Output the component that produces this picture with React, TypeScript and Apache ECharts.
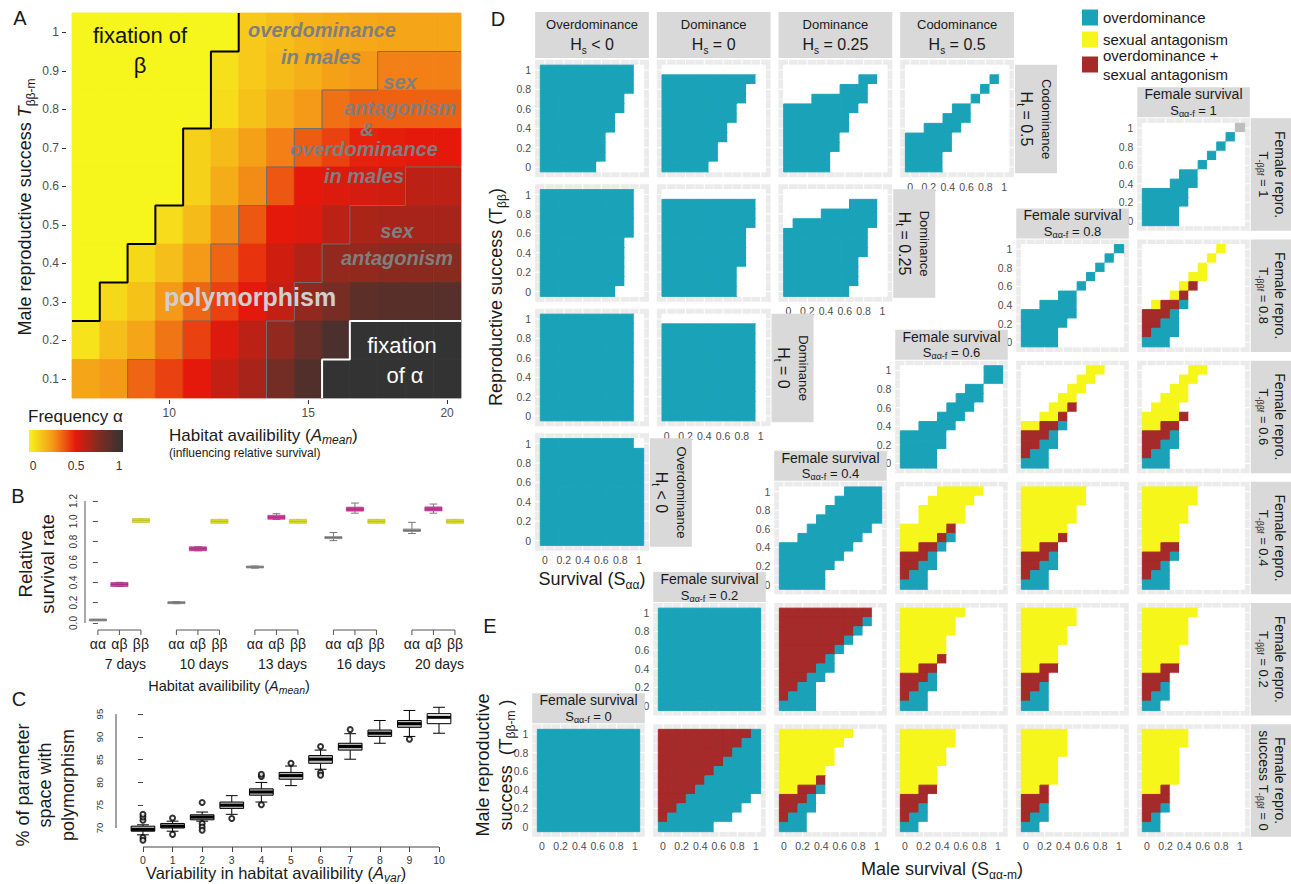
import React, { useEffect, useRef } from 'react';
import * as echarts from 'echarts';

const FONT = '"Liberation Sans", Arial, Helvetica, sans-serif';
const INK = '#1a1a1a';
const TICK_TXT = '#4d4d4d';

/* ---------------- Panel A : frequency of allele alpha ---------------- */
const A_X = [7, 8, 9, 10, 11, 12, 13, 14, 15, 16, 17, 18, 19, 20];
const A_Y = [1.0, 0.9, 0.8, 0.7, 0.6, 0.5, 0.4, 0.3, 0.2, 0.1];
const A_T10 = [0, 0, 0, 0, 0, 0, 0.12, 0.15, 0.18, 0.2, 0.21, 0.22, 0.22, 0.22];
const A_T09 = [0, 0, 0, 0, 0, 0.06, 0.12, 0.16, 0.19, 0.23, 0.25, 0.3, 0.3, 0.3];
const A_T08 = [0, 0, 0, 0, 0, 0.07, 0.14, 0.2, 0.25, 0.33, 0.36, 0.36, 0.36, 0.36];
const A_T07 = [0, 0, 0, 0, 0.1, 0.16, 0.23, 0.3, 0.37, 0.42, 0.48, 0.49, 0.5, 0.5];
const A_T06 = [0, 0, 0, 0, 0.1, 0.2, 0.28, 0.38, 0.5, 0.52, 0.54, 0.55, 0.6, 0.6];
const A_T05 = [0, 0, 0, 0.07, 0.16, 0.28, 0.38, 0.5, 0.52, 0.6, 0.64, 0.65, 0.65, 0.65];
const A_T04 = [0, 0, 0.08, 0.15, 0.25, 0.35, 0.45, 0.55, 0.62, 0.7, 0.7, 0.72, 0.72, 0.72];
const A_T03 = [0, 0.08, 0.14, 0.25, 0.35, 0.42, 0.5, 0.58, 0.7, 0.77, 0.86, 0.87, 0.87, 0.88];
const A_T02 = [0.05, 0.15, 0.22, 0.32, 0.42, 0.52, 0.6, 0.7, 0.82, 0.92, 1, 1, 1, 1];
const A_T01 = [0.22, 0.25, 0.35, 0.42, 0.5, 0.58, 0.65, 0.78, 0.9, 1, 1, 1, 1, 1];
const A_ROWS = [A_T10, A_T09, A_T08, A_T07, A_T06, A_T05, A_T04, A_T03, A_T02, A_T01];
const A_X_TICKS = [10, 15, 20];
const A_Y_TICKS = [0.1, 0.2, 0.3, 0.4, 0.5, 0.6, 0.7, 0.8, 0.9, 1];
const A_STOPS = ['#f6f51c', '#f59a18', '#e4190c', '#7d2c22', '#333333'];
// region boundaries (data space)
const A_FIX_BETA = [[12.5, 1.05], [12.5, 0.95], [11.5, 0.95], [11.5, 0.75], [10.5, 0.75], [10.5, 0.55], [9.5, 0.55], [9.5, 0.45], [8.5, 0.45], [8.5, 0.35], [7.5, 0.35], [7.5, 0.25], [6.5, 0.25]];
const A_FIX_ALPHA = [[20.5, 0.25], [16.5, 0.25], [16.5, 0.15], [15.5, 0.15], [15.5, 0.05]];
const A_OD_LINE = [[20.5, 0.95], [17.5, 0.95], [17.5, 0.85], [15.5, 0.85], [15.5, 0.75], [14.5, 0.75], [14.5, 0.65], [13.5, 0.65], [13.5, 0.55], [12.5, 0.55], [12.5, 0.45], [11.5, 0.45], [11.5, 0.25], [10.5, 0.25], [10.5, 0.15], [8.5, 0.15], [8.5, 0.05]];
const A_SA_LINE = [[20.5, 0.65], [18.5, 0.65], [18.5, 0.55], [16.5, 0.55], [16.5, 0.45], [15.5, 0.45], [15.5, 0.35], [14.5, 0.35], [14.5, 0.25], [13.5, 0.25], [13.5, 0.05]];

/* ---------------- Panel B : relative survival ---------------- */
const B_DAYS = ['7 days', '10 days', '13 days', '16 days', '20 days'];
const B_GENO = ['αα', 'αβ', 'ββ'];
const B_MED = [[0.03, 0.38, 1.01], [0.2, 0.73, 1.0], [0.55, 1.04, 1.0], [0.84, 1.12, 1.0], [0.91, 1.12, 1.0]];
const B_Q1 = [[0.028, 0.372, 0.995], [0.195, 0.72, 0.99], [0.547, 1.03, 0.99], [0.83, 1.11, 0.99], [0.9, 1.11, 0.99]];
const B_Q3 = [[0.032, 0.386, 1.02], [0.205, 0.74, 1.01], [0.555, 1.05, 1.01], [0.85, 1.13, 1.01], [0.925, 1.135, 1.01]];
const B_LO = [[0.028, 0.36, 0.995], [0.19, 0.71, 0.99], [0.54, 1.02, 0.99], [0.81, 1.08, 0.99], [0.88, 1.08, 0.99]];
const B_HI = [[0.032, 0.4, 1.02], [0.21, 0.75, 1.01], [0.56, 1.075, 1.01], [0.89, 1.18, 1.01], [0.99, 1.17, 1.01]];
const B_Y_TICKS = [0, 0.2, 0.4, 0.6, 0.8, 1.0, 1.2];

/* ---------------- Panel C : % parameter space with polymorphism ---------------- */
const C_X = [0, 1, 2, 3, 4, 5, 6, 7, 8, 9, 10];
const C_MED = [69.7, 70.4, 72.4, 75.0, 77.9, 81.5, 85.1, 87.9, 90.8, 92.9, 94.3];
const C_Q1 = [69.3, 70.0, 71.8, 74.3, 77.2, 80.7, 84.2, 87.1, 90.1, 92.1, 92.9];
const C_Q3 = [70.4, 71.0, 72.9, 75.7, 78.6, 82.2, 85.9, 88.6, 91.5, 93.6, 95.1];
const C_LO = [68.5, 69.3, 71.5, 73.0, 75.7, 79.3, 82.9, 85.1, 88.6, 90.1, 90.8];
const C_HI = [70.7, 71.5, 73.5, 77.1, 80.0, 83.6, 87.1, 90.7, 93.6, 95.8, 96.5];
const C_OUT = [[0, 67.9], [0, 67.3], [0, 71.7], [0, 72.4], [0, 73.0], [1, 68.6], [1, 72.2], [2, 71.0], [2, 70.2], [2, 69.5], [2, 75.6], [3, 72.1], [4, 75.1], [4, 81.3], [4, 81.8], [5, 84.2], [6, 82.2], [6, 81.6], [6, 87.9], [7, 91.6], [9, 89.5]];
const C_X_TICKS = [0, 1, 2, 3, 4, 5, 6, 7, 8, 9, 10];
const C_Y_TICKS = [70, 75, 80, 85, 90, 95];

/* ---------------- Panels D/E : 11x11 grids, rows top (1) to bottom (0), x = 0..1 ----------------
   '.' none, 'o' overdominance, 's' sexual antagonism, 'b' both, 'g' grey */
const D_R1_C1 = ['oooooooooo.', 'oooooooooo.', 'oooooooooo.', 'ooooooooo..', 'ooooooooo..', 'oooooooo...', 'oooooooo...', 'ooooooo....', 'ooooooo....', 'ooooooo....', 'oooooo.....'];
const D_R1_C2 = ['...........', 'oooooooooo.', 'ooooooooo..', 'ooooooooo..', 'oooooooo...', 'oooooooo...', 'ooooooo....', 'ooooooo....', 'oooooo.....', 'oooooo.....', 'ooooo......'];
const D_R1_C3 = ['...........', '........oo.', '......ooo..', '...oooooo..', 'oooooooo...', 'ooooooo....', 'ooooooo....', 'oooooo.....', 'oooooo.....', 'ooooo......', 'ooooo......'];
const D_R1_C4 = ['...........', '.........o.', '........o..', '.......o...', '.....oo....', '....ooo....', '..oooo.....', 'ooooo......', 'ooooo......', 'oooo.......', 'oooo.......'];
const D_R2_C1 = ['oooooooooo.', 'oooooooooo.', 'oooooooooo.', 'oooooooooo.', 'oooooooooo.', 'ooooooooo..', 'ooooooooo..', 'ooooooooo..', 'ooooooooo..', 'ooooooooo..', 'oooooooo...'];
const D_R2_C2 = ['...........', 'oooooooooo.', 'oooooooooo.', 'oooooooooo.', 'ooooooooo..', 'ooooooooo..', 'ooooooooo..', 'ooooooooo..', 'oooooooo...', 'oooooooo...', 'oooooooo...'];
const D_R2_C3 = ['...........', '.......ooo.', '....oooooo.', '.ooooooooo.', 'ooooooooo..', 'ooooooooo..', 'ooooooooo..', 'oooooooo...', 'oooooooo...', 'oooooooo...', 'ooooooo....'];
const D_R3_C1 = ['oooooooooo.', 'oooooooooo.', 'oooooooooo.', 'oooooooooo.', 'oooooooooo.', 'oooooooooo.', 'oooooooooo.', 'oooooooooo.', 'oooooooooo.', 'oooooooooo.', 'oooooooooo.'];
const D_R3_C2 = ['...........', 'oooooooooo.', 'oooooooooo.', 'oooooooooo.', 'oooooooooo.', 'oooooooooo.', 'oooooooooo.', 'oooooooooo.', 'oooooooooo.', 'oooooooooo.', 'oooooooooo.'];
const D_R4_C1 = ['oooooooooo.', 'ooooooooooo', 'ooooooooooo', 'ooooooooooo', 'ooooooooooo', 'ooooooooooo', 'ooooooooooo', 'ooooooooooo', 'ooooooooooo', 'ooooooooooo', 'ooooooooooo'];

const E_T10_S10 = ['..........g', '.........o.', '........o..', '.......o...', '......o....', '....oo.....', '...ooo.....', 'ooooo......', 'ooooo......', 'oooo.......', 'oooo.......'];
const E_T08_S08 = ['..........o', '.........o.', '........o..', '.......o...', '......o....', '....oo.....', '..oooo.....', 'oooooo.....', 'ooooo......', 'oooo.......', 'oooo.......'];
const E_T08_S10 = ['........s..', '.......s...', '......s....', '.....ss....', '....sb.....', '...sb......', '.sbbo......', 'bbbo.......', 'bboo.......', 'booo.......', 'ooo........'];
const E_T06_S06 = ['.........oo', '.........oo', '.......oo..', '......ooo..', '.....ooo...', '....ooo....', '..oooo.....', 'ooooo......', 'ooooo......', 'oooo.......', 'oooo.......'];
const E_T06_S08 = ['.......ss..', '......ss...', '.....ss....', '....ss.....', '...ssb.....', '..ssb......', 'ssbbo......', 'bbbo.......', 'bboo.......', 'boo........', 'ooo........'];
const E_T06_S10 = ['.....ss....', '....ss.....', '...ss......', '..sss......', '.sss.......', 'ssssb......', 'ssbb.......', 'bbbo.......', 'bboo.......', 'boo........', 'ooo........'];
const E_T04_S04 = ['.......oooo', '......ooooo', '.....oooooo', '....ooooooo', '...ooooooo.', '..ooooooo..', 'oooooooo...', 'ooooooo....', 'oooooo.....', 'ooooo......', 'ooooo......'];
const E_T04_S06 = ['....sssss..', '...sssss...', '..sssss....', '..sssss....', 'sssssb.....', 'ssssbo.....', 'ssbbo......', 'bbbo.......', 'bboo.......', 'boo........', 'ooo........'];
const E_T04_S08 = ['sssssss....', 'sssssss....', 'ssssss.....', 'ssssss.....', 'sssss......', 'ssssb......', 'ssbb.......', 'bbbo.......', 'bboo.......', 'boo........', 'ooo........'];
const E_T04_S10 = ['ssssss.....', 'ssssss.....', 'sssss......', 'sssss......', 'ssss.......', 'ssss.......', 'ssbb.......', 'bbbo.......', 'bbo........', 'boo........', 'ooo........'];
const E_T02_S02 = ['ooooooooooo', 'ooooooooooo', 'ooooooooooo', 'ooooooooooo', 'ooooooooooo', 'ooooooooooo', 'ooooooooooo', 'ooooooooooo', 'ooooooooooo', 'ooooooooooo', 'ooooooooooo'];
const E_T02_S04 = ['bbbbbbbbbb.', 'bbbbbbbbbo.', 'bbbbbbbbo..', 'bbbbbbbo...', 'bbbbbbo....', 'bbbbbo.....', 'bbbboo.....', 'bbboo......', 'bboo.......', 'booo.......', 'oooo.......'];
const E_T02_S06 = ['sssssss....', 'ssssss.....', 'ssssss.....', 'sssss......', 'sssss......', 'ssssb......', 'ssbb.......', 'bbbo.......', 'bboo.......', 'boo........', 'ooo........'];
const E_T02_S08 = ['ssssss.....', 'ssssss.....', 'sssss......', 'sssss......', 'ssss.......', 'ssss.......', 'ssbb.......', 'bbb........', 'bbo........', 'boo........', 'ooo........'];
const E_T02_S10 = ['ssssss.....', 'sssss......', 'sssss......', 'sssss......', 'ssss.......', 'ssss.......', 'ssbb.......', 'bbb........', 'bbo........', 'boo........', 'oo.........'];
const E_T00_S00 = ['ooooooooooo', 'ooooooooooo', 'ooooooooooo', 'ooooooooooo', 'ooooooooooo', 'ooooooooooo', 'ooooooooooo', 'ooooooooooo', 'ooooooooooo', 'ooooooooooo', 'ooooooooooo'];
const E_T00_S02 = ['bbbbbbbbbbo', 'bbbbbbbbboo', 'bbbbbbbbooo', 'bbbbbbboooo', 'bbbbbbooooo', 'bbbbboooooo', 'bbbbooooooo', 'bbbooooooo.', 'bbooooooo..', 'booooooo...', 'oooooo.....'];
const E_T00_S04 = ['ssssssss...', 'sssssss....', 'ssssss.....', 'ssssss.....', 'sssss......', 'ssssb......', 'ssbbo......', 'bbbo.......', 'bboo.......', 'boo........', 'ooo........'];
const E_T00_S06 = ['ssssss.....', 'ssssss.....', 'sssss......', 'sssss......', 'ssss.......', 'ssss.......', 'ssbb.......', 'bbb........', 'bbo........', 'boo........', 'oo.........'];
const E_T00_S08 = ['sssss......', 'sssss......', 'sssss......', 'ssss.......', 'ssss.......', 'ssss.......', 'ssb........', 'bbb........', 'bbo........', 'boo........', 'oo.........'];
const E_T00_S10 = ['sssss......', 'sssss......', 'ssss.......', 'ssss.......', 'ssss.......', 'ssss.......', 'ssb........', 'bbb........', 'bbo........', 'bo.........', 'oo.........'];

const D_PANELS = [
  { r: 0, c: 0, rows: D_R1_C1 }, { r: 0, c: 1, rows: D_R1_C2 }, { r: 0, c: 2, rows: D_R1_C3 }, { r: 0, c: 3, rows: D_R1_C4 },
  { r: 1, c: 0, rows: D_R2_C1 }, { r: 1, c: 1, rows: D_R2_C2 }, { r: 1, c: 2, rows: D_R2_C3 },
  { r: 2, c: 0, rows: D_R3_C1 }, { r: 2, c: 1, rows: D_R3_C2 },
  { r: 3, c: 0, rows: D_R4_C1 },
];
const D_COL_TITLES = [['Overdominance', ' < 0'], ['Dominance', ' = 0'], ['Dominance', ' = 0.25'], ['Codominance', ' = 0.5']];
const D_ROW_TITLES = [['Codominance', ' = 0.5'], ['Dominance', ' = 0.25'], ['Dominance', ' = 0'], ['Overdominance', ' < 0']];

const E_PANELS = [
  { t: 0, c: 5, rows: E_T10_S10 },
  { t: 1, c: 4, rows: E_T08_S08 }, { t: 1, c: 5, rows: E_T08_S10 },
  { t: 2, c: 3, rows: E_T06_S06 }, { t: 2, c: 4, rows: E_T06_S08 }, { t: 2, c: 5, rows: E_T06_S10 },
  { t: 3, c: 2, rows: E_T04_S04 }, { t: 3, c: 3, rows: E_T04_S06 }, { t: 3, c: 4, rows: E_T04_S08 }, { t: 3, c: 5, rows: E_T04_S10 },
  { t: 4, c: 1, rows: E_T02_S02 }, { t: 4, c: 2, rows: E_T02_S04 }, { t: 4, c: 3, rows: E_T02_S06 }, { t: 4, c: 4, rows: E_T02_S08 }, { t: 4, c: 5, rows: E_T02_S10 },
  { t: 5, c: 0, rows: E_T00_S00 }, { t: 5, c: 1, rows: E_T00_S02 }, { t: 5, c: 2, rows: E_T00_S04 }, { t: 5, c: 3, rows: E_T00_S06 }, { t: 5, c: 4, rows: E_T00_S08 }, { t: 5, c: 5, rows: E_T00_S10 },
];
const E_S_LABELS = ['0', '0.2', '0.4', '0.6', '0.8', '1'];
const E_T_LABELS = ['1', '0.8', '0.6', '0.4', '0.2', '0'];
const SMALL_TICKS = [0, 0.2, 0.4, 0.6, 0.8, 1];
const CAT_KEYS = '.osbg';
const CAT_COLORS = ['#ffffff', '#1aa3b8', '#f6f61a', '#a52a2a', '#bdbdbd'];
const LEGEND_ITEMS = ['overdominance', 'sexual antagonism', 'overdominance +\nsexual antagonism'];

/* ---------------- helpers ---------------- */
function hexRgb(h: string) {
  const n = parseInt(h.slice(1), 16);
  return [(n >> 16) & 255, (n >> 8) & 255, n & 255];
}
function ramp(v: number) {
  const s = A_STOPS;
  const t = Math.max(0, Math.min(1, v)) * (s.length - 1);
  const i = Math.min(Math.floor(t), s.length - 2);
  const f = t - i;
  const a = hexRgb(s[i]);
  const b = hexRgb(s[i + 1]);
  const m = a.map((x, k) => Math.round(x + (b[k] - x) * f));
  return `rgb(${m[0]},${m[1]},${m[2]})`;
}
function ln(x1: number, y1: number, x2: number, y2: number, stroke: string, lineWidth: number) {
  return { type: 'line', shape: { x1, y1, x2, y2 }, style: { stroke, lineWidth } };
}

const aTileItem = (params: any, api: any) => {
  const x = api.value(0), y = api.value(1), v = api.value(2);
  const a = api.coord([x - 0.5, y + 0.05]);
  const b = api.coord([x + 0.5, y - 0.05]);
  const fill = ramp(v);
  return { type: 'rect', shape: { x: a[0], y: a[1], width: b[0] - a[0], height: b[1] - a[1] }, style: { fill, stroke: fill, lineWidth: 0.8 } };
};

const tileItem = (params: any, api: any) => {
  const x = api.value(0), y = api.value(1), k = api.value(2);
  const a = api.coord([x - 0.05, y + 0.05]);
  const b = api.coord([x + 0.05, y - 0.05]);
  const fill = CAT_COLORS[k];
  return { type: 'rect', shape: { x: a[0], y: a[1], width: b[0] - a[0], height: b[1] - a[1] }, style: { fill, stroke: fill, lineWidth: 1 } };
};

const gridLinesItem = (params: any, api: any) => {
  const ch: any[] = [];
  for (let i = 0; i <= 10; i++) {
    const v = i / 10;
    const w = i % 2 === 0 ? 1.1 : 0.5;
    const a = api.coord([v, -0.105]), b = api.coord([v, 1.105]);
    ch.push(ln(a[0], a[1], b[0], b[1], '#ffffff', w));
    const c = api.coord([-0.105, v]), d = api.coord([1.105, v]);
    ch.push(ln(c[0], c[1], d[0], d[1], '#ffffff', w));
  }
  return { type: 'group', children: ch };
};

const B_GAP = 3.65;
const B_XMIN = -0.6;
const B_YMIN = -0.059;
const B_FILL = ['#a0a0a0', '#d23c9e', '#dcdc2a'];
const B_EDGE = ['#6e6e6e', '#a82a7c', '#bcbc20'];

const bBoxItem = (params: any, api: any) => {
  const x = api.value(0), lo = api.value(1), q1 = api.value(2), med = api.value(3), q3 = api.value(4), hi = api.value(5), g = api.value(6);
  const pm = api.coord([x, med]);
  const hw = api.coord([x + 0.4, med])[0] - pm[0];
  const yLo = api.coord([x, lo])[1], yHi = api.coord([x, hi])[1];
  let top = api.coord([x, q3])[1], bot = api.coord([x, q1])[1];
  const minH = g === 0 ? 2 : 4;
  if (bot - top < minH) { const m = (top + bot) / 2; top = m - minH / 2; bot = m + minH / 2; }
  const cw = hw * 0.45;
  return {
    type: 'group', children: [
      ln(pm[0], yHi, pm[0], top, '#777', 1),
      ln(pm[0], bot, pm[0], yLo, '#777', 1),
      ln(pm[0] - cw, yHi, pm[0] + cw, yHi, '#777', 1),
      ln(pm[0] - cw, yLo, pm[0] + cw, yLo, '#777', 1),
      { type: 'rect', shape: { x: pm[0] - hw, y: top, width: 2 * hw, height: bot - top }, style: { fill: B_FILL[g], stroke: B_EDGE[g], lineWidth: 0.6 } },
      ln(pm[0] - hw, pm[1], pm[0] + hw, pm[1], B_EDGE[g], 1),
    ],
  };
};

const bAxisItem = (params: any, api: any) => {
  const g = api.value(0);
  const xs = [0, 1, 2].map((k) => api.coord([g * B_GAP + k, 0])[0]);
  const yb = api.coord([0, B_YMIN])[1] + 1;
  const ch: any[] = [ln(xs[0], yb, xs[2], yb, '#555', 1)];
  xs.forEach((x, k) => {
    ch.push(ln(x, yb, x, yb + 5, '#555', 1));
    ch.push({ type: 'text', x, y: yb + 14, style: { text: B_GENO[k], fill: INK, fontSize: 14, fontFamily: FONT, align: 'center', verticalAlign: 'middle' } });
  });
  ch.push({ type: 'text', x: xs[1] + 6, y: yb + 34, style: { text: B_DAYS[g], fill: INK, fontSize: 14, fontFamily: FONT, align: 'center', verticalAlign: 'middle' } });
  return { type: 'group', children: ch };
};

const bYLineItem = (params: any, api: any) => {
  const a = api.coord([B_XMIN, 0]), b = api.coord([B_XMIN, 1.2]);
  return ln(a[0], a[1], b[0], b[1], '#555', 1);
};

const C_XMIN = -0.91;
const C_YMIN = 65.83;
const cBoxItem = (params: any, api: any) => {
  const x = api.value(0), lo = api.value(1), q1 = api.value(2), med = api.value(3), q3 = api.value(4), hi = api.value(5);
  const pm = api.coord([x, med]);
  const hw = api.coord([x + 0.4, med])[0] - pm[0];
  const cw = hw * 0.5;
  const yLo = api.coord([x, lo])[1], yQ1 = api.coord([x, q1])[1], yQ3 = api.coord([x, q3])[1], yHi = api.coord([x, hi])[1];
  const fill = params.dataIndex === 10 ? '#ffffff' : '#bdbdbd';
  return {
    type: 'group', children: [
      ln(pm[0], yHi, pm[0], yQ3, '#000', 1),
      ln(pm[0], yQ1, pm[0], yLo, '#000', 1),
      ln(pm[0] - cw, yHi, pm[0] + cw, yHi, '#000', 1),
      ln(pm[0] - cw, yLo, pm[0] + cw, yLo, '#000', 1),
      { type: 'rect', shape: { x: pm[0] - hw, y: yQ3, width: 2 * hw, height: yQ1 - yQ3 }, style: { fill, stroke: '#000', lineWidth: 1 } },
      ln(pm[0] - hw, pm[1], pm[0] + hw, pm[1], '#000', 3),
    ],
  };
};
const cAxesItem = (params: any, api: any) => {
  const a = api.coord([0, C_YMIN]), b = api.coord([10, C_YMIN]);
  const c = api.coord([C_XMIN, 70]), d = api.coord([C_XMIN, 95]);
  return { type: 'group', children: [ln(a[0], a[1], b[0], b[1], '#444', 1), ln(c[0], c[1], d[0], d[1], '#444', 1)] };
};

function rt(n: number, s: number, fill = INK) {
  return {
    n: { fontSize: n, fontFamily: FONT, fill, lineHeight: Math.round(n * 1.25) },
    i: { fontSize: n, fontFamily: FONT, fill, fontStyle: 'italic', lineHeight: Math.round(n * 1.25) },
    s: { fontSize: s, fontFamily: FONT, fill, verticalAlign: 'bottom' },
    si: { fontSize: s, fontFamily: FONT, fill, fontStyle: 'italic', verticalAlign: 'bottom' },
  };
}
function txt(x: number, y: number, text: string, style: any = {}, extra: any = {}) {
  return { type: 'text', x, y, z: 100, silent: true, ...extra, style: { text, fill: INK, fontSize: 14, fontFamily: FONT, align: 'center', verticalAlign: 'middle', ...style } };
}
function box(x: number, y: number, w: number, h: number, fill = '#d9d9d9') {
  return { type: 'rect', z: 90, silent: true, shape: { x, y, width: w, height: h }, style: { fill } };
}

function buildOption() {
  const grid: any[] = [];
  const xAxis: any[] = [];
  const yAxis: any[] = [];
  const series: any[] = [];
  const gfx: any[] = [];
  const gridBase = { containLabel: false, outerBoundsMode: 'none' };

  /* ---- A ---- */
  grid.push({ ...gridBase, left: 72, top: 13, width: 389, height: 385 });
  xAxis.push({
    type: 'value', gridIndex: 0, min: 6.5, max: 20.5, offset: 2,
    axisLine: { show: false }, splitLine: { show: false },
    axisTick: { length: 4, lineStyle: { color: '#333' }, customValues: A_X_TICKS },
    axisLabel: { customValues: A_X_TICKS, fontSize: 12, color: TICK_TXT, margin: 7, fontFamily: FONT },
  });
  yAxis.push({
    type: 'value', gridIndex: 0, min: 0.05, max: 1.05, offset: 6,
    axisLine: { show: false }, splitLine: { show: false },
    axisTick: { length: 4, lineStyle: { color: '#333' }, customValues: A_Y_TICKS },
    axisLabel: { customValues: A_Y_TICKS, fontSize: 12, color: TICK_TXT, margin: 7, fontFamily: FONT },
  });
  const aData: any[] = [];
  A_ROWS.forEach((row, ri) => row.forEach((v, ci) => aData.push([A_X[ci], A_Y[ri], v])));
  series.push({ type: 'custom', xAxisIndex: 0, yAxisIndex: 0, data: aData, renderItem: aTileItem, silent: true, z: 2 });
  const lineS = (data: any, color: string, width: number) => ({
    type: 'line', xAxisIndex: 0, yAxisIndex: 0, data, symbol: 'none', showSymbol: false,
    lineStyle: { color, width }, silent: true, z: 5, clip: false,
  });
  series.push(lineS(A_OD_LINE, '#6f6f6f', 1), lineS(A_SA_LINE, '#6f6f6f', 1), lineS(A_FIX_BETA, '#000000', 2), lineS(A_FIX_ALPHA, '#ffffff', 2));

  /* ---- B ---- */
  grid.push({ ...gridBase, left: 85, top: 495, width: 385, height: 134 });
  xAxis.push({ type: 'value', gridIndex: 1, min: B_XMIN, max: 17.3, show: false });
  yAxis.push({
    type: 'value', gridIndex: 1, min: B_YMIN, max: 1.259,
    axisLine: { show: false }, splitLine: { show: false },
    axisTick: { length: 5, lineStyle: { color: '#555' }, customValues: B_Y_TICKS },
    axisLabel: { customValues: B_Y_TICKS, rotate: 90, fontSize: 10, color: '#333', margin: 7, fontFamily: FONT, formatter: (v: number) => v.toFixed(1) },
  });
  const bData: any[] = [];
  B_MED.forEach((grp, g) => grp.forEach((m, k) => bData.push([g * B_GAP + k, B_LO[g][k], B_Q1[g][k], m, B_Q3[g][k], B_HI[g][k], k])));
  series.push({ type: 'custom', xAxisIndex: 1, yAxisIndex: 1, data: bData, renderItem: bBoxItem, silent: true, z: 3 });
  series.push({ type: 'custom', xAxisIndex: 1, yAxisIndex: 1, data: B_DAYS.map((_, g) => [g]), renderItem: bAxisItem, silent: true, z: 3 });
  series.push({ type: 'custom', xAxisIndex: 1, yAxisIndex: 1, data: [[0]], renderItem: bYLineItem, silent: true, z: 3 });

  /* ---- C ---- */
  grid.push({ ...gridBase, left: 116, top: 705, width: 339, height: 142 });
  xAxis.push({
    type: 'value', gridIndex: 2, min: C_XMIN, max: 10.54,
    axisLine: { show: false }, splitLine: { show: false },
    axisTick: { length: 5, lineStyle: { color: '#444' }, customValues: C_X_TICKS },
    axisLabel: { customValues: C_X_TICKS, fontSize: 10.5, color: '#333', margin: 7, fontFamily: '"Liberation Sans Narrow", ' + FONT },
  });
  yAxis.push({
    type: 'value', gridIndex: 2, min: C_YMIN, max: 97,
    axisLine: { show: false }, splitLine: { show: false },
    axisTick: { length: 5, lineStyle: { color: '#444' }, customValues: C_Y_TICKS },
    axisLabel: { customValues: C_Y_TICKS, rotate: 90, fontSize: 9.5, color: '#333', margin: 12, fontFamily: '"Liberation Sans Narrow", ' + FONT },
  });
  const cData = C_X.map((x, i) => [x, C_LO[i], C_Q1[i], C_MED[i], C_Q3[i], C_HI[i]]);
  series.push({ type: 'custom', xAxisIndex: 2, yAxisIndex: 2, data: cData, renderItem: cBoxItem, silent: true, z: 3 });
  series.push({ type: 'custom', xAxisIndex: 2, yAxisIndex: 2, data: [[0]], renderItem: cAxesItem, silent: true, z: 3 });
  series.push({
    type: 'scatter', xAxisIndex: 2, yAxisIndex: 2, data: C_OUT, symbol: 'emptyCircle', symbolSize: 5,
    itemStyle: { color: '#000', borderColor: '#000', borderWidth: 0.8 }, silent: true, z: 4,
  });

  /* ---- small panels ---- */
  const addSmall = (rows: string[], x0: number, y1: number, ux: number, uy: number, showX: boolean, showY: boolean) => {
    const idx = grid.length;
    grid.push({ ...gridBase, left: x0 - 0.105 * ux, top: y1 - 0.105 * uy, width: 1.21 * ux, height: 1.21 * uy, show: true, backgroundColor: '#ebebeb', borderWidth: 0, borderColor: 'transparent' });
    const ax = (show: boolean) => ({
      type: 'value', gridIndex: idx, min: -0.105, max: 1.105,
      axisLine: { show: false }, splitLine: { show: false },
      axisTick: { show, length: 3, lineStyle: { color: '#333', width: 1.4 }, customValues: SMALL_TICKS },
      axisLabel: { show, customValues: SMALL_TICKS, fontSize: 10.5, color: TICK_TXT, margin: 4, fontFamily: FONT },
    });
    xAxis.push(ax(showX));
    yAxis.push(ax(showY));
    series.push({ type: 'custom', xAxisIndex: idx, yAxisIndex: idx, data: [[0, 0]], renderItem: gridLinesItem, silent: true, z: 1 });
    const data: any[] = [];
    rows.forEach((r, ri) => {
      for (let ci = 0; ci < 11; ci++) data.push([ci / 10, (10 - ri) / 10, CAT_KEYS.indexOf(r[ci])]);
    });
    series.push({ type: 'custom', xAxisIndex: idx, yAxisIndex: idx, data, renderItem: tileItem, silent: true, z: 2 });
  };

  const DX0 = 545, DDX = 121.7, DUX = 94, DY1 = 70, DDY = 124.5, DUY = 97;
  D_PANELS.forEach((p) => addSmall(p.rows, DX0 + DDX * p.c, DY1 + DDY * p.r, DUX, DUY, p.r + p.c === 3, p.c === 0));
  const EX0 = 542, EDX = 121, EU = 93, EY1 = 128, EDY = 121.2;
  E_PANELS.forEach((p) => addSmall(p.rows, EX0 + EDX * p.c, EY1 + EDY * p.t, EU, EU, p.t === 5, p.c === 5 - p.t));

  /* ---- graphic: labels, strips, titles ---- */
  const bigLbl = { fontSize: 20 };
  gfx.push(txt(20, 18, 'A', bigLbl), txt(18, 496, 'B', bigLbl), txt(19, 699, 'C', bigLbl), txt(498, 19, 'D', bigLbl), txt(490, 626, 'E', bigLbl));

  // A annotations
  gfx.push(txt(140, 35, 'fixation of', { fontSize: 22, fill: '#111' }), txt(140, 65, 'β', { fontSize: 22, fill: '#111' }));
  const g1 = { fontSize: 20, fontWeight: 'bold', fontStyle: 'italic', fill: '#7f7f7f' };
  gfx.push(
    txt(322, 30, 'overdominance', g1), txt(321, 57, 'in males', g1),
    txt(400, 82, 'sex', g1), txt(400, 108, 'antagonism', g1), txt(367, 129, '&', { ...g1, fontSize: 19 }),
    txt(364, 149, 'overdominance', g1), txt(364, 176, 'in males', g1),
    txt(397, 231, 'sex', g1), txt(397, 258, 'antagonism', g1),
  );
  gfx.push(txt(250, 297, 'polymorphism', { fontSize: 25, fontWeight: 'bold', fill: '#cfcfcf' }));
  gfx.push(txt(402, 345, 'fixation', { fontSize: 22, fill: '#ffffff' }), txt(405, 375, 'of α', { fontSize: 22, fill: '#ffffff' }));
  // A titles
  gfx.push(txt(25, 207, '{n|Male reproductive success }{i|T}{s|ββ-m}', { rich: rt(18, 12) }, { rotation: Math.PI / 2 }));
  gfx.push(txt(169, 435, '{n|Habitat availibility (}{i|A}{si|mean}{n|)}', { rich: rt(17, 12), align: 'left' }));
  gfx.push(txt(169, 453, '(influencing relative survival)', { fontSize: 12, align: 'left' }));
  gfx.push(txt(28, 416, 'Frequency α', { fontSize: 17, align: 'left' }));
  gfx.push({
    type: 'rect', z: 100, silent: true, shape: { x: 29, y: 430, width: 94, height: 22 },
    style: { fill: { type: 'linear', x: 0, y: 0, x2: 1, y2: 0, colorStops: A_STOPS.map((c, i) => ({ offset: i / (A_STOPS.length - 1), color: c })) } },
  });
  gfx.push(txt(33, 466, '0', { fontSize: 12, fill: '#333' }), txt(76, 466, '0.5', { fontSize: 12, fill: '#333' }), txt(119, 466, '1', { fontSize: 12, fill: '#333' }));

  // B titles
  gfx.push(txt(36, 564, 'Relative\nsurvival rate', { fontSize: 18.5, lineHeight: 22 }, { rotation: Math.PI / 2 }));
  gfx.push(txt(229, 686, '{n|Habitat availibility (}{i|A}{si|mean}{n|)}', { rich: rt(14.5, 10.5) }));
  // C titles
  gfx.push(txt(45, 785, '% of parameter\nspace with\npolymorphism', { fontSize: 18, lineHeight: 22.5 }, { rotation: Math.PI / 2 }));
  gfx.push(txt(276, 873, '{n|Variability in habitat availibility (}{i|A}{si|var}{n|)}', { rich: rt(16.5, 12) }));

  // D column headers
  const dRich = {
    a: { fontSize: 13, fontFamily: FONT, fill: INK, lineHeight: 19 },
    b: { fontSize: 16, fontFamily: FONT, fill: INK, lineHeight: 21 },
    s: { fontSize: 10, fontFamily: FONT, fill: INK, verticalAlign: 'bottom' },
  };
  D_COL_TITLES.forEach(([name, rel], c) => {
    const left = DX0 + DDX * c - 0.105 * DUX;
    const w = 1.21 * DUX;
    gfx.push(box(left, 12, w, 46));
    gfx.push(txt(left + w / 2, 35, `{a|${name}}\n{b|H}{s|s}{b|${rel}}`, { rich: dRich }));
  });
  D_ROW_TITLES.forEach(([name, rel], r) => {
    const c = 3 - r;
    const x = DX0 + DDX * c + 1.105 * DUX + 1;
    const top = DY1 + DDY * r - 0.105 * DUY + 5;
    const h = 1.21 * DUY - 9;
    gfx.push(box(x, top, 42, h));
    gfx.push(txt(x + 21, top + h / 2, `{a|${name}}\n{b|H}{s|t}{b|${rel}}`, { rich: dRich }, { rotation: -Math.PI / 2 }));
  });

  // E headers and strips
  const eRich = {
    a: { fontSize: 14, fontFamily: FONT, fill: INK, lineHeight: 16 },
    b: { fontSize: 13, fontFamily: FONT, fill: INK, lineHeight: 16 },
    s: { fontSize: 9, fontFamily: FONT, fill: INK, verticalAlign: 'bottom' },
  };
  E_S_LABELS.forEach((lab, c) => {
    const t = 5 - c;
    const left = EX0 + EDX * c - 0.105 * EU;
    const w = 1.21 * EU;
    const top = EY1 + EDY * t - 0.105 * EU;
    gfx.push(box(left, top - 31, w, 30));
    gfx.push(txt(left + w / 2, top - 16, `{a|Female survival}\n{b|S}{s|αα-f}{b| = ${lab}}`, { rich: eRich }));
  });
  E_T_LABELS.forEach((lab, t) => {
    const x = EX0 + EDX * 5 + 1.105 * EU + 1;
    const top = EY1 + EDY * t - 0.105 * EU;
    const h = 1.21 * EU;
    gfx.push(box(x, top, 42, h));
    const second = t === 5 ? `{a|success }{b|T}{s|-ββf}{b| = ${lab}}` : `{b|T}{s|-ββf}{b| = ${lab}}`;
    gfx.push(txt(x + 21, top + h / 2, `{a|Female repro.}\n${second}`, { rich: eRich }, { rotation: -Math.PI / 2 }));
  });

  // legend
  const legY = [17.5, 39.5, 64.5];
  LEGEND_ITEMS.forEach((lab, i) => {
    gfx.push({ type: 'rect', z: 100, silent: true, shape: { x: 1082, y: legY[i] - 8, width: 16, height: 16 }, style: { fill: CAT_COLORS[i + 1] } });
    gfx.push(txt(1103, legY[i], lab, { fontSize: 15, align: 'left', lineHeight: 19 }));
  });

  // D / E axis titles
  gfx.push(txt(496, 297, '{n|Reproductive success (T}{s|ββ}{n|)}', { rich: rt(18, 12) }, { rotation: Math.PI / 2 }));
  gfx.push(txt(592, 579, '{n|Survival (S}{s|αα}{n|)}', { rich: rt(18, 12) }));
  gfx.push(txt(494, 765, '{n|Male reproductive}\n{n|success  (T}{s|ββ-m}{n| )}', { rich: rt(18, 12) }, { rotation: Math.PI / 2 }));
  gfx.push(txt(942, 869, '{n|Male survival (S}{s|αα-m}{n|)}', { rich: rt(18, 12) }));

  return {
    animation: false,
    backgroundColor: '#ffffff',
    textStyle: { fontFamily: FONT },
    grid, xAxis, yAxis, series,
    graphic: { elements: gfx },
  };
}

export default function App() {
  const ref = useRef<HTMLDivElement>(null);
  useEffect(() => {
    const chart = echarts.init(ref.current as HTMLDivElement, undefined, { renderer: 'svg' });
    chart.setOption(buildOption() as any);
    return () => chart.dispose();
  }, []);
  return <div ref={ref} style={{ position: 'absolute', left: 0, top: 0, width: 1291, height: 884, background: '#fff' }} />;
}
